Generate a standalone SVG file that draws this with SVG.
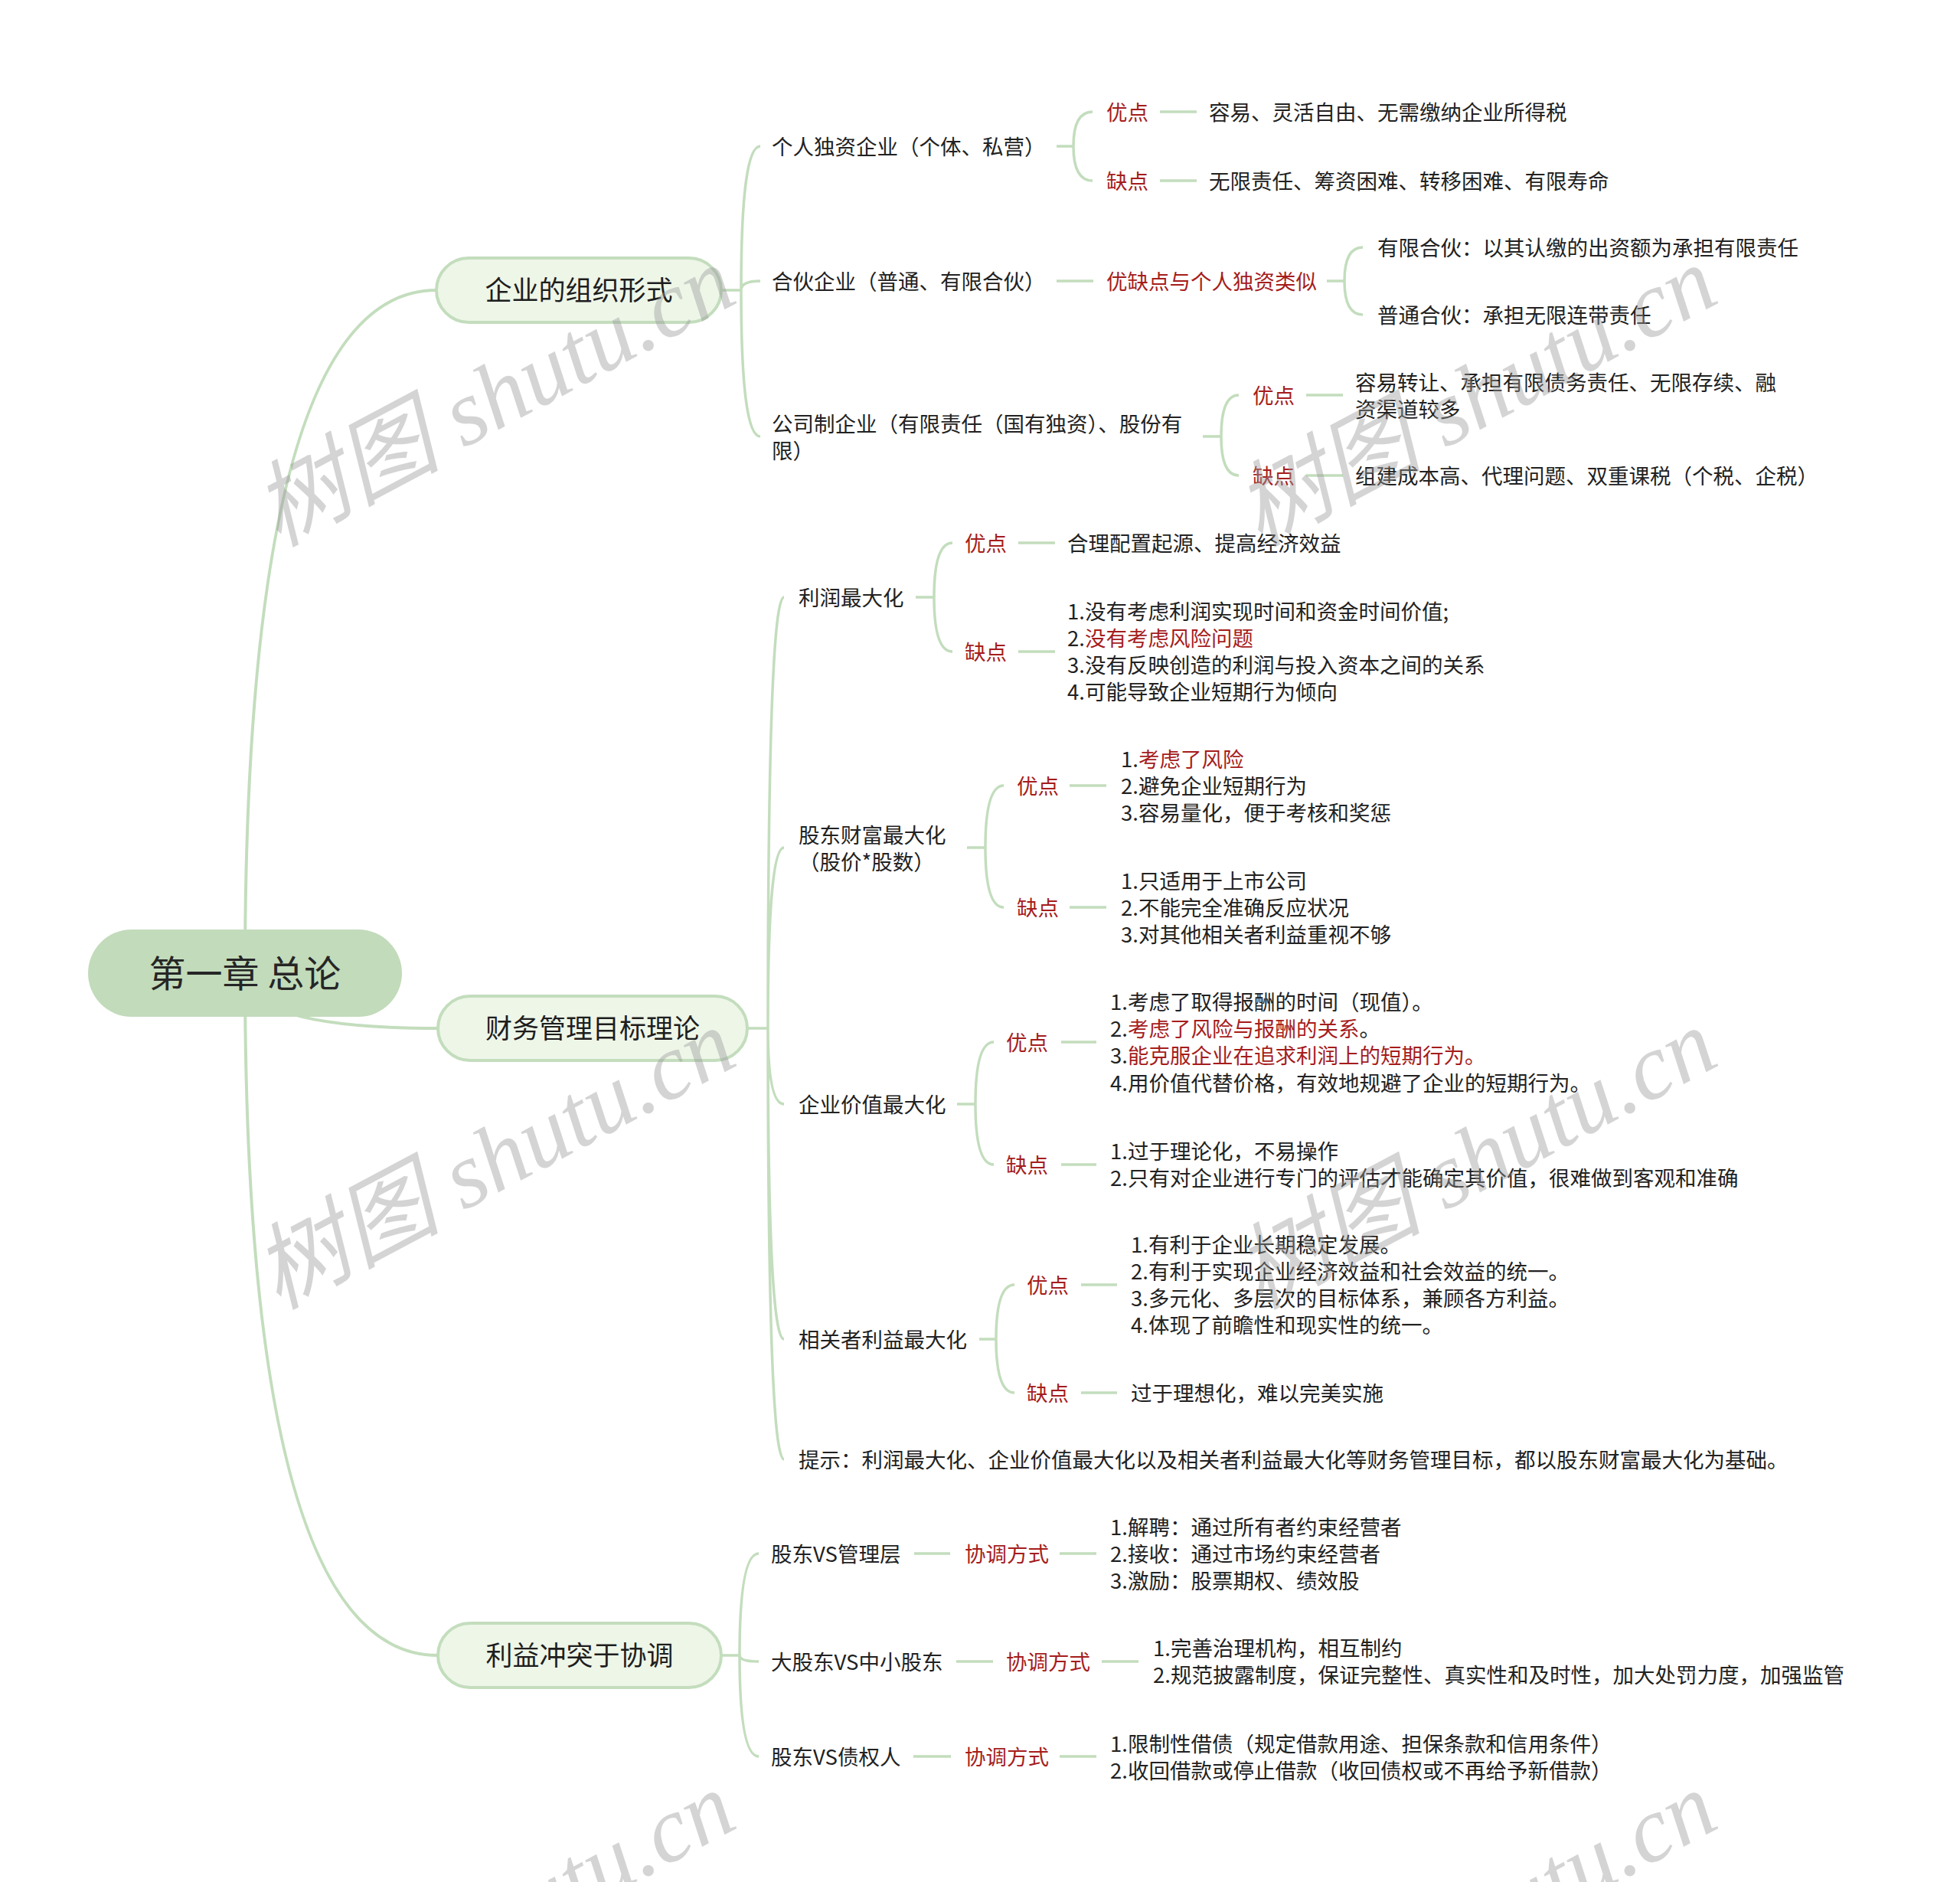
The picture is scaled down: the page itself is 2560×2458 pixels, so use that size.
<svg xmlns="http://www.w3.org/2000/svg" width="2560" height="2458" viewBox="0 0 2560 2458">
<style>
text { font-family: "Noto Sans CJK SC", "Noto Sans", sans-serif; font-size: 27.5px; fill: #222; }
.r { fill: #a51d1d; }
.l1 { font-size: 35px; text-anchor: middle; fill: #1e1e1e; }
.root { font-size: 48px; text-anchor: middle; fill: #262626; }
.c { fill: none; stroke: #c3ddbd; stroke-width: 3.5; }
.c0 { fill: none; stroke: #c3ddbd; stroke-width: 4; }
.n1 { fill: #eef6e8; stroke: #c3ddbd; stroke-width: 4; }
.wm { font-family: "Liberation Serif", "Noto Sans CJK SC", serif; font-style: italic; font-size: 122px; fill: #9a9a9a; opacity: 0.42; text-anchor: middle; }
</style>
<rect width="2560" height="2458" fill="#ffffff"/>
<g id="connectors">
  <path class="c0" d="M 320 1271 Q 320 379 570 379"/>
  <path class="c0" d="M 320 1271 Q 320 1343 572 1343"/>
  <path class="c0" d="M 320 1271 Q 320 2162 572 2162"/>
  <path class="c" d="M 942 379 L 968 379 M 968 379 Q 968 191 993 191 M 968 379 Q 968 367 993 367 M 968 379 Q 968 570 993 570"/>
  <path class="c" d="M 1380 191 L 1402 191 M 1402 191 Q 1402 146 1427 146 M 1402 191 Q 1402 236 1427 236"/>
  <path class="c" d="M 1515 146 L 1563 146 M 1515 236 L 1563 236"/>
  <path class="c" d="M 1380 367 L 1428 367 M 1733 367 L 1756 367 M 1756 367 Q 1756 323 1780 323 M 1756 367 Q 1756 411 1780 411"/>
  <path class="c" d="M 1571 570 L 1595 570 M 1595 570 Q 1595 516 1618 516 M 1595 570 Q 1595 621 1618 621"/>
  <path class="c" d="M 1706 516 L 1754 516 M 1706 621 L 1754 621"/>
  <path class="c" d="M 976 1343 L 1003 1343 M 1003 1343 Q 1003 780 1024 780 M 1003 1343 Q 1003 1107 1024 1107 M 1003 1343 Q 1003 1442 1024 1442 M 1003 1343 Q 1003 1749 1024 1749 M 1003 1343 Q 1003 1906 1024 1906"/>
  <path class="c" d="M 1196 780 L 1220 780 M 1220 780 Q 1220 709 1244 709 M 1220 780 Q 1220 851 1244 851 M 1330 709 L 1378 709 M 1330 851 L 1378 851"/>
  <path class="c" d="M 1263 1107 L 1287 1107 M 1287 1107 Q 1287 1026 1311 1026 M 1287 1107 Q 1287 1185 1311 1185 M 1397 1026 L 1445 1026 M 1397 1185 L 1445 1185"/>
  <path class="c" d="M 1250 1442 L 1274 1442 M 1274 1442 Q 1274 1361 1298 1361 M 1274 1442 Q 1274 1521 1298 1521 M 1386 1361 L 1432 1361 M 1386 1521 L 1432 1521"/>
  <path class="c" d="M 1279 1749 L 1301 1749 M 1301 1749 Q 1301 1678 1325 1678 M 1301 1749 Q 1301 1819 1325 1819 M 1412 1678 L 1459 1678 M 1412 1819 L 1459 1819"/>
  <path class="c" d="M 942 2162 L 966 2162 M 966 2162 Q 966 2029 991 2029 M 966 2162 Q 966 2170 991 2170 M 966 2162 Q 966 2294 991 2294"/>
  <path class="c" d="M 1194 2029 L 1241 2029 M 1384 2029 L 1432 2029 M 1249 2170 L 1297 2170 M 1439 2170 L 1487 2170 M 1193 2294 L 1242 2294 M 1384 2294 L 1432 2294"/>
</g>
<g id="root">
  <rect x="115" y="1214" width="410" height="114" rx="57" fill="#c2dbbb"/>
  <text class="root" x="320" y="1289">第一章 总论</text>
</g>
<g id="n-org">
  <rect class="n1" x="570" y="337" width="372" height="84" rx="42"/>
  <text class="l1" x="756" y="392">企业的组织形式</text>
</g>
<g id="n-goal">
  <rect class="n1" x="572" y="1301" width="404" height="84" rx="42"/>
  <text class="l1" x="774" y="1356">财务管理目标理论</text>
</g>
<g id="n-conflict">
  <rect class="n1" x="572" y="2120" width="370" height="84" rx="42"/>
  <text class="l1" x="757" y="2175">利益冲突于协调</text>
</g>

<g id="n-sole">
  <text x="1008" y="201.5">个人独资企业（个体、私营）</text>
  <text class="r" x="1445" y="156.5">优点</text>
  <text x="1579" y="156.5">容易、灵活自由、无需缴纳企业所得税</text>
  <text class="r" x="1445" y="246.5">缺点</text>
  <text x="1579" y="246.5">无限责任、筹资困难、转移困难、有限寿命</text>
</g>
<g id="n-partner">
  <text x="1008" y="377.5">合伙企业（普通、有限合伙）</text>
  <text class="r" x="1445" y="377.5">优缺点与个人独资类似</text>
  <text x="1799" y="333.5">有限合伙：以其认缴的出资额为承担有限责任</text>
  <text x="1799" y="421.5">普通合伙：承担无限连带责任</text>
</g>
<g id="n-corp">
  <text x="1008" y="563.5">公司制企业（有限责任（国有独资）、股份有</text>
  <text x="1008" y="598.5">限）</text>
  <text class="r" x="1636" y="526.5">优点</text>
  <text x="1770" y="509.5">容易转让、承担有限债务责任、无限存续、融</text>
  <text x="1770" y="544.5">资渠道较多</text>
  <text class="r" x="1636" y="631.5">缺点</text>
  <text x="1770" y="631.5">组建成本高、代理问题、双重课税（个税、企税）</text>
</g>

<g id="n-profit">
  <text x="1043" y="790.5">利润最大化</text>
  <text class="r" x="1260" y="719.5">优点</text>
  <text x="1394" y="719.5">合理配置起源、提高经济效益</text>
  <text class="r" x="1260" y="861.5">缺点</text>
  <text x="1394" y="808.5">1.没有考虑利润实现时间和资金时间价值;</text>
  <text x="1394" y="843.5">2.<tspan class="r">没有考虑风险问题</tspan></text>
  <text x="1394" y="879">3.没有反映创造的利润与投入资本之间的关系</text>
  <text x="1394" y="914">4.可能导致企业短期行为倾向</text>
</g>
<g id="n-wealth">
  <text x="1043" y="1100.5">股东财富最大化</text>
  <text x="1043" y="1135.5">（股价*股数）</text>
  <text class="r" x="1328" y="1036.5">优点</text>
  <text x="1464" y="1001.5">1.<tspan class="r">考虑了风险</tspan></text>
  <text x="1464" y="1036.5">2.避免企业短期行为</text>
  <text x="1464" y="1072">3.容易量化，便于考核和奖惩</text>
  <text class="r" x="1328" y="1195.5">缺点</text>
  <text x="1464" y="1160.5">1.只适用于上市公司</text>
  <text x="1464" y="1195.5">2.不能完全准确反应状况</text>
  <text x="1464" y="1231">3.对其他相关者利益重视不够</text>
</g>
<g id="n-value">
  <text x="1043" y="1452.5">企业价值最大化</text>
  <text class="r" x="1314" y="1371.5">优点</text>
  <text x="1450" y="1318.5">1.考虑了取得报酬的时间（现值）。</text>
  <text x="1450" y="1354">2.<tspan class="r">考虑了风险与报酬的关系</tspan>。</text>
  <text x="1450" y="1389">3.<tspan class="r">能克服企业在追求利润上的短期行为。</tspan></text>
  <text x="1450" y="1424.5">4.用价值代替价格，有效地规避了企业的短期行为。</text>
  <text class="r" x="1314" y="1531.5">缺点</text>
  <text x="1450" y="1514">1.过于理论化，不易操作</text>
  <text x="1450" y="1549">2.只有对企业进行专门的评估才能确定其价值，很难做到客观和准确</text>
</g>
<g id="n-stake">
  <text x="1043" y="1759.5">相关者利益最大化</text>
  <text class="r" x="1341" y="1688.5">优点</text>
  <text x="1477" y="1635.5">1.有利于企业长期稳定发展。</text>
  <text x="1477" y="1670.5">2.有利于实现企业经济效益和社会效益的统一。</text>
  <text x="1477" y="1706">3.多元化、多层次的目标体系，兼顾各方利益。</text>
  <text x="1477" y="1741">4.体现了前瞻性和现实性的统一。</text>
  <text class="r" x="1341" y="1829.5">缺点</text>
  <text x="1477" y="1829.5">过于理想化，难以完美实施</text>
</g>
<g id="n-tip">
  <text x="1043" y="1916.5">提示：利润最大化、企业价值最大化以及相关者利益最大化等财务管理目标，都以股东财富最大化为基础。</text>
</g>

<g id="n-mgmt">
  <text x="1007" y="2039.5">股东VS管理层</text>
  <text class="r" x="1260" y="2039.5">协调方式</text>
  <text x="1450" y="2004.5">1.解聘：通过所有者约束经营者</text>
  <text x="1450" y="2039.5">2.接收：通过市场约束经营者</text>
  <text x="1450" y="2075">3.激励：股票期权、绩效股</text>
</g>
<g id="n-minor">
  <text x="1007" y="2180.5">大股东VS中小股东</text>
  <text class="r" x="1314" y="2180.5">协调方式</text>
  <text x="1506" y="2163">1.完善治理机构，相互制约</text>
  <text x="1506" y="2198">2.规范披露制度，保证完整性、真实性和及时性，加大处罚力度，加强监管</text>
</g>
<g id="n-creditor">
  <text x="1007" y="2304.5">股东VS债权人</text>
  <text class="r" x="1260" y="2304.5">协调方式</text>
  <text x="1450" y="2287.5">1.限制性借债（规定借款用途、担保条款和信用条件）</text>
  <text x="1450" y="2322.5">2.收回借款或停止借款（收回债权或不再给予新借款）</text>
</g>

<g id="watermarks">
  <text class="wm" x="665" y="554" transform="rotate(-28 665 554)">树图 shutu.cn</text>
  <text class="wm" x="1947" y="554" transform="rotate(-28 1947 554)">树图 shutu.cn</text>
  <text class="wm" x="665" y="1550" transform="rotate(-28 665 1550)">树图 shutu.cn</text>
  <text class="wm" x="1947" y="1550" transform="rotate(-28 1947 1550)">树图 shutu.cn</text>
  <text class="wm" x="665" y="2546" transform="rotate(-28 665 2546)">树图 shutu.cn</text>
  <text class="wm" x="1947" y="2546" transform="rotate(-28 1947 2546)">树图 shutu.cn</text>
</g>
</svg>
